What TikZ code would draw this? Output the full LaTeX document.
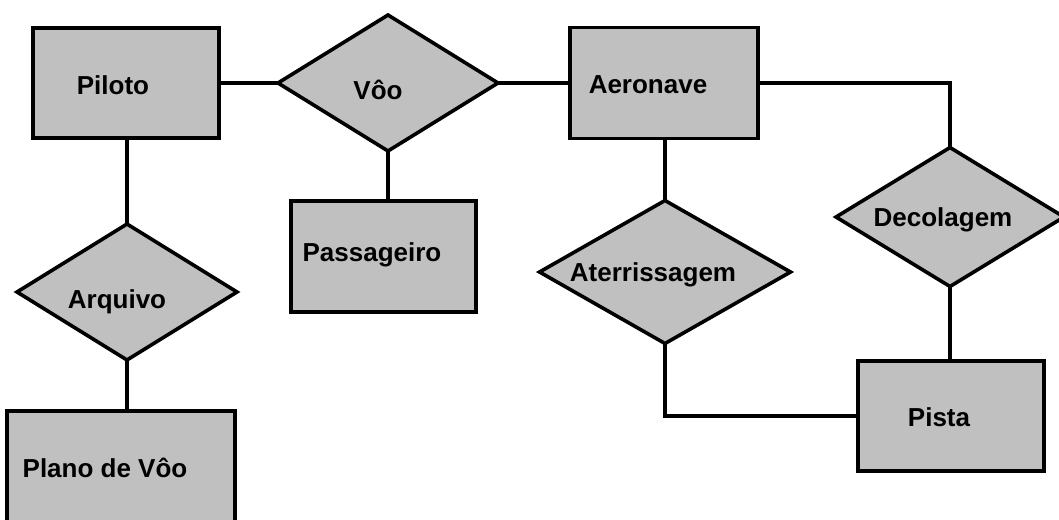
\documentclass[tikz,border=0pt]{standalone}
\usepackage{fontspec}
\setmainfont{Liberation Sans}
\usetikzlibrary{shapes.geometric}
\definecolor{boxgray}{HTML}{C0C0C0}
\begin{document}
\begin{tikzpicture}[x=1pt,y=-1pt,
  ent/.style={draw=black,fill=boxgray,line width=3.6pt,rectangle,inner sep=0pt,outer sep=0pt},
  rel/.style={draw=black,fill=boxgray,line width=3.6pt,diamond,inner sep=0pt,outer sep=0pt},
  lbl/.style={font=\fontsize{26}{30}\selectfont\bfseries,inner sep=0pt},
  conn/.style={draw=black,line width=3.6pt}]
\useasboundingbox (0,0) rectangle (1059,519);
% entities
\node[ent,minimum width=186pt,minimum height=110pt] (piloto) at (126,83) {};
\node[ent,minimum width=188pt,minimum height=111pt] (aero) at (664,83) {};
\node[ent,minimum width=185pt,minimum height=111pt] (pass) at (383.5,256.5) {};
\node[ent,minimum width=228pt,minimum height=111pt] (plano) at (121,466.5) {};
\node[ent,minimum width=186pt,minimum height=110pt] (pista) at (951,416) {};
% relationships
\node[rel,minimum width=220pt,minimum height=136pt] (voo) at (388,83) {};
\node[rel,minimum width=220pt,minimum height=136pt] (arq) at (127,292) {};
\node[rel,minimum width=251pt,minimum height=143pt] (ater) at (665,272) {};
\node[rel,minimum width=228pt,minimum height=139pt] (deco) at (950,217) {};
% connectors
\draw[conn] (piloto.east) -- (voo.west);
\draw[conn] (voo.east) -- (aero.west);
\draw[conn] (arq.north |- piloto.south) -- (arq.north);
\draw[conn] (arq.south) -- (arq.south |- plano.north);
\draw[conn] (voo.south) -- (voo.south |- pass.north);
\draw[conn] (ater.north |- aero.south) -- (ater.north);
\draw[conn] (ater.south) -- (ater.south |- pista.west) -- (pista.west);
\draw[conn] (aero.east) -- (deco.north |- aero.east) -- (deco.north);
\draw[conn] (deco.south) -- (deco.south |- pista.north);
% labels
\node[lbl] (tpiloto) at (113,85) {Piloto};
\node[lbl] (tvoo) at (378,90) {Vôo};
\node[lbl] (taero) at (648,85) {Aeronave};
\node[lbl] (tpass) at (372,255) {Passageiro};
\node[lbl] (tarq) at (117,302) {Arquivo};
\node[lbl] (tplano) at (105,468) {Plano de Vôo};
\node[lbl] (tater) at (653,275) {Aterrissagem};
\node[lbl] (tdeco) at (943,220) {Decolagem};
\node[lbl] (tpista) at (939,417) {Pista};
\end{tikzpicture}
\end{document}
